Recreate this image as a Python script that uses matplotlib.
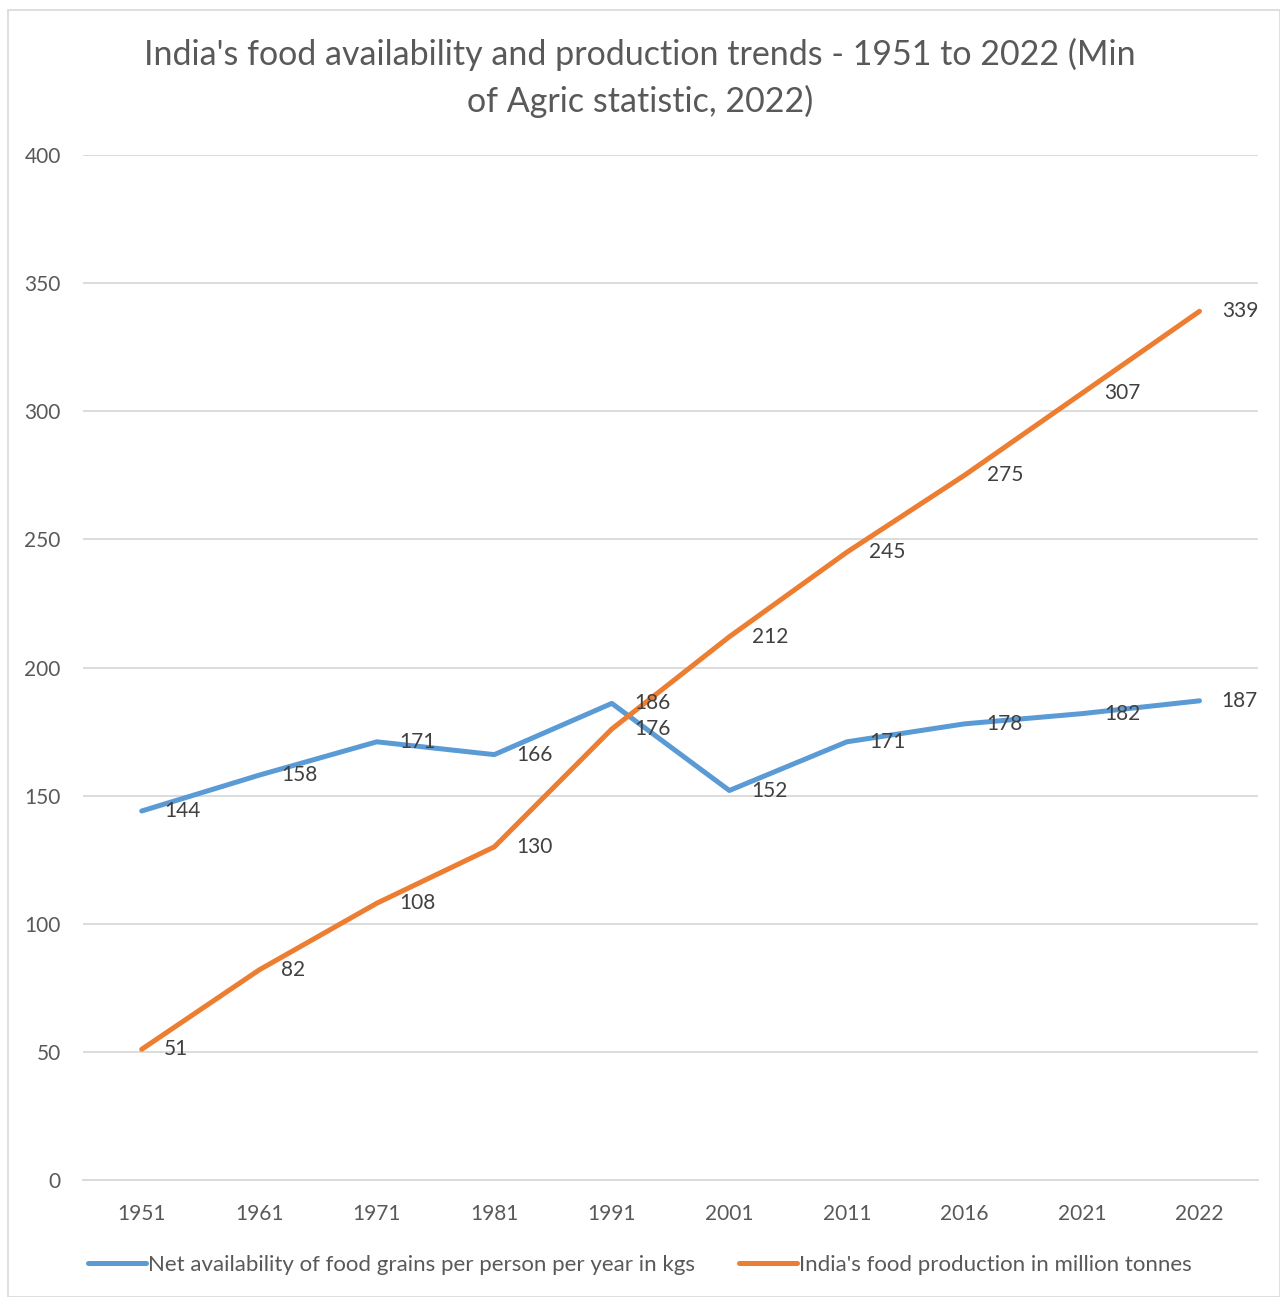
import matplotlib
matplotlib.use("Agg")
import matplotlib.pyplot as plt
from matplotlib.patches import Rectangle

years = ["1951", "1961", "1971", "1981", "1991", "2001", "2011", "2016", "2021", "2022"]
per_person_kg = [144, 158, 171, 166, 186, 152, 171, 178, 182, 187]
production_mt = [51, 82, 108, 130, 176, 212, 245, 275, 307, 339]

BLUE = "#5B9BD5"
ORANGE = "#ED7D31"
GRID = "#D9D9D9"
TICK = "#595959"
LABEL = "#404040"

plt.rcParams["font.family"] = ["Lato", "DejaVu Sans"]

fig = plt.figure(figsize=(12.8, 12.97), dpi=100)
ax = fig.add_axes([0.0648, 0.0902, 0.9182, 0.7903])

x = list(range(len(years)))
ax.plot(x, per_person_kg, color=BLUE, lw=3.6, solid_capstyle="round",
        label="Net availability of food grains per person per year in kgs")
ax.plot(x, production_mt, color=ORANGE, lw=3.6, solid_capstyle="round",
        label="India's food production in million tonnes")

# value labels sit to the right of each point
for series in (per_person_kg, production_mt):
    for xi, v in zip(x, series):
        ax.annotate(str(v), (xi, v), xytext=(16, 0), textcoords="offset points",
                    ha="left", va="center", fontsize=15, color=LABEL)

ax.set_xlim(-0.5, len(years) - 0.5)
ax.set_ylim(0, 400)
ax.set_yticks(range(0, 401, 50))
ax.set_xticks(x)
ax.set_xticklabels(years)
ax.yaxis.grid(True, color=GRID, lw=1.3)
ax.set_axisbelow(True)
for s in ax.spines.values():
    s.set_visible(False)
ax.spines["bottom"].set_visible(True)
ax.spines["bottom"].set_color(GRID)
ax.spines["bottom"].set_linewidth(1.3)
ax.tick_params(axis="both", length=0, labelsize=15, labelcolor=TICK)
ax.tick_params(axis="y", pad=16)
ax.tick_params(axis="x", pad=17)

fig.text(0.5, 0.940, "India's food availability and production trends - 1951 to 2022 (Min\nof Agric statistic, 2022)",
         ha="center", va="center", fontsize=24.5, color=TICK, linespacing=1.5)

leg = fig.legend(loc="center", bbox_to_anchor=(0.5, 0.0245), ncol=2, frameon=False,
                 fontsize=16, handlelength=2.6, handletextpad=0.1, columnspacing=2.0)
for t in leg.get_texts():
    t.set_color(TICK)

fig.patches.append(Rectangle((8 / 1280, 0.0), 1 - 8 / 1280, 1 - 10 / 1297,
                             transform=fig.transFigure, fill=False,
                             edgecolor="#D9D9D9", lw=1.2))

fig.savefig("out.png", dpi=100)
